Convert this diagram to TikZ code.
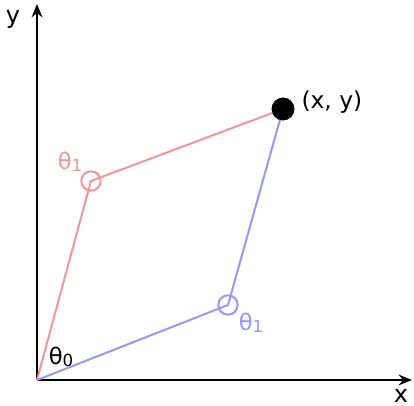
\documentclass[tikz,border=0pt]{standalone}
\usepackage{fontspec}
\setmainfont{DejaVu Sans}
\usepackage{tikz}
\usetikzlibrary{arrows.meta, positioning, calc}

\definecolor{armred}{RGB}{240,150,150}
\definecolor{armblue}{RGB}{150,150,255}
\newcommand{\ang}[1]{θ\raisebox{-0.12ex}{\fontsize{12.5}{14}\selectfont #1}}

\begin{document}
\begin{tikzpicture}[x=0.75pt, y=0.75pt,
    axis/.style={line width=1.6pt, -{Stealth[length=10pt, width=8pt]}},
    arm/.style={line width=1.5pt},
    joint/.style={circle, draw, line width=1.5pt, inner sep=0pt, minimum size=14.5pt},
    lbl/.style={font=\fontsize{17}{19}\selectfont, inner sep=0pt}]
            \useasboundingbox (0,0) rectangle (414,406);
            \coordinate (O) at (37,26);
            \coordinate (xend) at (412,26);
            \coordinate (yend) at (37,402);
            \draw[axis] (O) -- (xend);
            \draw[axis] (O) -- (yend);
            \node[font=\fontsize{18}{20}\selectfont, inner sep=0pt] (ylabel) at (13,387) {y};
            \node[font=\fontsize{18}{20}\selectfont, inner sep=0pt] (xlabel) at (401,10.5) {x};
            % the two arms
            \node[joint, draw=armred] (jred) at (91,225) {};
            \node[joint, draw=armblue] (jblue) at (228,101) {};
            \node[circle, fill=black, inner sep=0pt, minimum size=17pt] (tip) at (283,297) {};
            \draw[arm, armred] (O) -- (jred.center) -- (tip.center);
            \draw[arm, armblue] (O) -- (jblue.center) -- (tip.center);
            \node[circle, fill=black, inner sep=0pt, minimum size=17pt] at (tip) {};
            \node[font=\fontsize{17.5}{20}\selectfont, inner sep=0pt, right=5pt of tip, yshift=5pt] (xy) {(x, y)};
            \node[lbl] (th0) at (61,49) {\ang{0}};
            \node[lbl, armred] (th1red) at (70,244) {\ang{1}};
            \node[lbl, armblue] (th1blue) at (251,83) {\ang{1}};
        \end{tikzpicture}
\end{document}
